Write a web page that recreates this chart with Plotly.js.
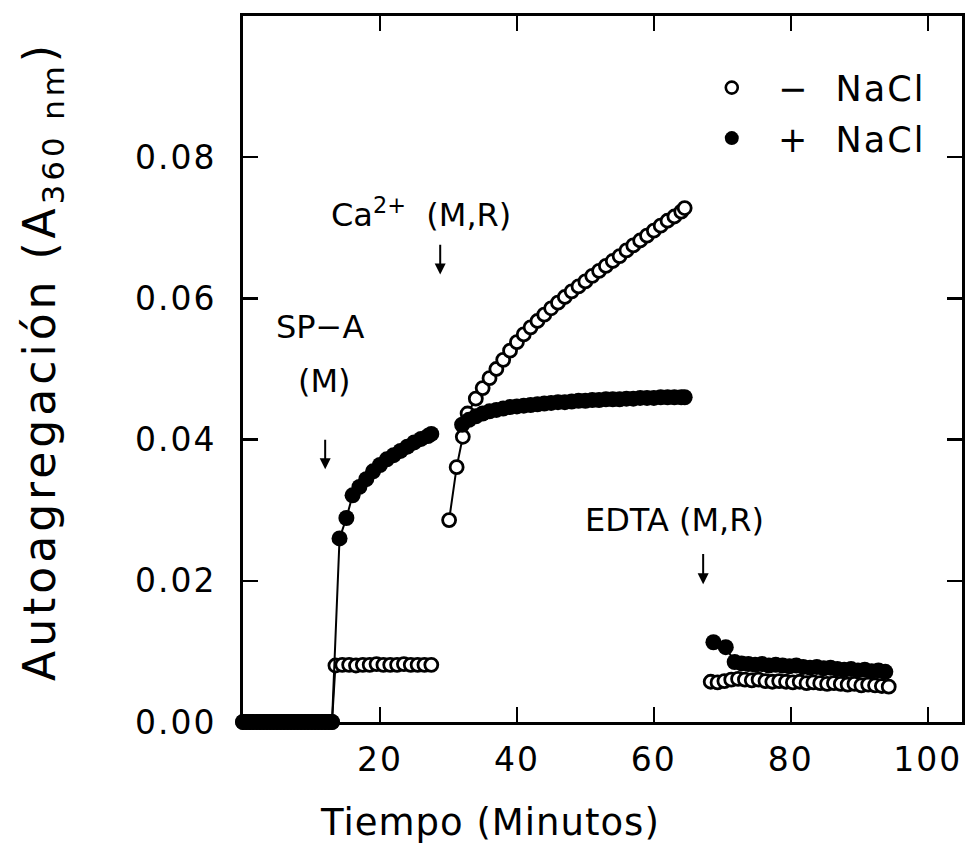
<!DOCTYPE html>
<html>
<head>
<meta charset="utf-8">
<script src="https://cdn.plot.ly/plotly-3.0.1.min.js"></script>
<style>
html,body{margin:0;padding:0;background:#fff;}
#chart{width:966px;height:861px;}
svg text{letter-spacing:2px;}
svg text.annotation-text{letter-spacing:0;}
</style>
</head>
<body>
<div id="chart"></div>
<script>
// ---- Data ----
// − NaCl (open circles); null separates the recording blocks
const minusX = [
  0,0.5,1,1.5,2,2.5,3,3.5,4,4.5,5,5.5,6,6.5,7,7.5,8,8.5,9,9.5,10,10.5,11,11.5,12,12.5,13,
  13.5,14.5,15.5,16.5,17.5,18.5,19.5,20.5,21.5,22.5,23.5,24.5,25.5,26.5,27.5,
  null,
  30.1,31.2,32.1,32.8,34,35,36,37,38,39,40,41,42,43,44,45,46,47,48,49,50,51,52,53,54,55,56,57,58,59,60,61,62,63,64,64.5,
  null,
  68.3,69.3,70.3,71.3,72.3,73.3,74.3,75.3,76.3,77.3,78.3,79.3,80.3,81.3,82.3,83.3,84.3,85.3,86.3,87.3,88.3,89.3,90.3,91.3,92.3,93.3,94.3
];
const minusY = [
  0,0,0,0,0,0,0,0,0,0,0,0,0,0,0,0,0,0,0,0,0,0,0,0,0,0,0,
  0.0080,0.0081,0.0081,0.0080,0.0081,0.0081,0.0082,0.0081,0.0081,0.0081,0.0082,0.0081,0.0081,0.0081,0.0081,
  null,
  0.0286,0.0361,0.0404,0.0437,0.0458,0.0473,0.0487,0.0500,0.0513,0.0526,0.0538,0.0549,0.0559,0.0568,0.0577,0.0586,0.0594,0.0602,0.0610,0.0617,0.0624,0.0632,0.0639,0.0646,0.0653,0.0660,0.0668,0.0675,0.0682,0.0689,0.0696,0.0703,0.0710,0.0716,0.0723,0.0728,
  null,
  0.0057,0.0056,0.0058,0.0060,0.0061,0.0060,0.0059,0.0060,0.0058,0.0057,0.0058,0.0057,0.0056,0.0057,0.0055,0.0056,0.0055,0.0054,0.0055,0.0054,0.0053,0.0054,0.0052,0.0053,0.0052,0.0051,0.0050
];
// + NaCl (filled circles)
const plusX = [
  0,0.5,1,1.5,2,2.5,3,3.5,4,4.5,5,5.5,6,6.5,7,7.5,8,8.5,9,9.5,10,10.5,11,11.5,12,12.5,13,
  14.1,15.1,16,17,18,19,20,21,22,23,24,25,26,27,27.5,
  null,
  32,33,34,35,36,37,38,39,40,41,42,43,44,45,46,47,48,49,50,51,52,53,54,55,56,57,58,59,60,61,62,63,64,64.5,
  null,
  68.7,70.5,71.8,72.8,73.8,74.8,75.8,76.8,77.8,78.8,79.8,80.8,81.8,82.8,83.8,84.8,85.8,86.8,87.8,88.8,89.8,90.8,91.8,92.8,93.8
];
const plusY = [
  0,0,0,0,0,0,0,0,0,0,0,0,0,0,0,0,0,0,0,0,0,0,0,0,0,0,0,
  0.0260,0.0289,0.0321,0.0333,0.0344,0.0355,0.0364,0.0372,0.0378,0.0384,0.0390,0.0396,0.0401,0.0405,0.0408,
  null,
  0.0421,0.0428,0.0433,0.0437,0.0440,0.0442,0.0444,0.0446,0.0447,0.0448,0.0449,0.0450,0.0451,0.0452,0.0453,0.0453,0.0454,0.0455,0.0455,0.0456,0.0456,0.0457,0.0457,0.0457,0.0458,0.0458,0.0459,0.0459,0.0459,0.0460,0.0460,0.0460,0.0460,0.0460,
  null,
  0.0113,0.0106,0.0085,0.0083,0.0082,0.0081,0.0082,0.0080,0.0081,0.0080,0.0079,0.0080,0.0078,0.0077,0.0078,0.0076,0.0077,0.0075,0.0074,0.0075,0.0073,0.0074,0.0072,0.0073,0.0071
];
const seriesNames = ['\u00a0\u00a0\u2212\u00a0\u00a0NaCl', '\u00a0\u00a0+\u00a0\u00a0NaCl'];
const xTicks = [20, 40, 60, 80, 100];
const xTickText = ['20', '40', '60', '80', '100'];
const yTicks = [0, 0.02, 0.04, 0.06, 0.08];
const yTickText = ['0.00', '0.02', '0.04', '0.06', '0.08'];
const xTitle = '<span style="letter-spacing:1px">Tiempo (Minutos)</span>';
const yTitle = '<span style="letter-spacing:4px">Autoagregación (A<sub>360 nm</sub>)</span>';
// event labels and the small down arrows beneath them
const eventLabels = ['SP\u2212A', '(M)', 'Ca<sup>2+</sup>\u00a0\u00a0(M,R)', 'EDTA (M,R)'];
const eventLabelX = [11.2, 11.9, 26.0, 63.0];
const eventLabelY = [0.0559, 0.0483, 0.0721, 0.0286];
const arrowX = [12.0, 28.8, 67.2];
const arrowTipY = [0.0358, 0.0634, 0.0195];
const arrowTailY = [0.0402, 0.0678, 0.0240];

const FONT = 'DejaVu Sans, Arial, sans-serif';

const openMarker = {symbol: 'circle', size: 13, color: '#ffffff', line: {color: '#000', width: 2.8}};
const fillMarker = {symbol: 'circle', size: 16, color: '#000', line: {color: '#000', width: 0}};

const traces = [
  {x: minusX, y: minusY, mode: 'lines+markers', line: {color: '#000', width: 2}, marker: openMarker,
   connectgaps: false, showlegend: false, hoverinfo: 'skip', cliponaxis: false},
  {x: plusX, y: plusY, mode: 'lines+markers', line: {color: '#000', width: 2}, marker: fillMarker,
   connectgaps: false, showlegend: false, hoverinfo: 'skip', cliponaxis: false},
  {x: [null], y: [null], mode: 'markers', name: seriesNames[0], legendgroup: 'a',
   marker: {symbol: 'circle', size: 12, color: '#fff', line: {color: '#000', width: 2.6}}},
  {x: [null], y: [null], mode: 'markers', name: seriesNames[1], legendgroup: 'b',
   marker: {symbol: 'circle', size: 14, color: '#000'}}
];

const annotations = [];
for (let i = 0; i < eventLabels.length; i++) {
  annotations.push({x: eventLabelX[i], y: eventLabelY[i], xref: 'x', yref: 'y', text: eventLabels[i],
    showarrow: false, font: {family: FONT, size: 32, color: '#000'}, xanchor: 'center', yanchor: 'middle'});
}
for (let i = 0; i < arrowX.length; i++) {
  annotations.push({x: arrowX[i], y: arrowTipY[i], ax: arrowX[i], ay: arrowTailY[i], xref: 'x', yref: 'y',
    axref: 'x', ayref: 'y', text: '', showarrow: true, arrowhead: 2, arrowsize: 1.1, arrowwidth: 2, arrowcolor: '#000'});
}
annotations.push({x: 0.3435, y: -0.142, xref: 'paper', yref: 'paper', text: xTitle, showarrow: false,
  font: {family: FONT, size: 37, color: '#000'}, xanchor: 'center', yanchor: 'middle'});
annotations.push({x: -0.279, y: 0.512, xref: 'paper', yref: 'paper', text: yTitle, showarrow: false,
  textangle: -90, font: {family: FONT, size: 44, color: '#000'}, xanchor: 'center', yanchor: 'middle'});

const axisCommon = {
  showline: true, linecolor: '#000', linewidth: 3, mirror: 'allticks',
  ticks: 'inside', ticklen: 15, tickwidth: 2.5, tickcolor: '#000',
  showgrid: false, zeroline: false, tickfont: {family: FONT, size: 33, color: '#000'}
};

const layout = {
  width: 966, height: 861,
  margin: {l: 243, r: 4, t: 16, b: 139, pad: 0},
  paper_bgcolor: '#fff', plot_bgcolor: '#fff',
  font: {family: FONT, color: '#000'},
  xaxis: Object.assign({}, axisCommon, {
    range: [0, 105], tickmode: 'array', tickvals: xTicks, ticktext: xTickText,
    ticklabelstandoff: 6
  }),
  yaxis: Object.assign({}, axisCommon, {
    range: [0, 0.1], tickmode: 'array', tickvals: yTicks, ticktext: yTickText,
    ticklabelstandoff: 17
  }),
  legend: {x: 0.652, y: 0.94, xanchor: 'left', yanchor: 'top', bgcolor: 'rgba(0,0,0,0)',
    font: {family: FONT, size: 35, color: '#000'}, traceorder: 'grouped', tracegroupgap: 2},
  annotations: annotations,
  showlegend: true
};

Plotly.newPlot('chart', traces, layout, {displayModeBar: false, staticPlot: true});
</script>
</body>
</html>
